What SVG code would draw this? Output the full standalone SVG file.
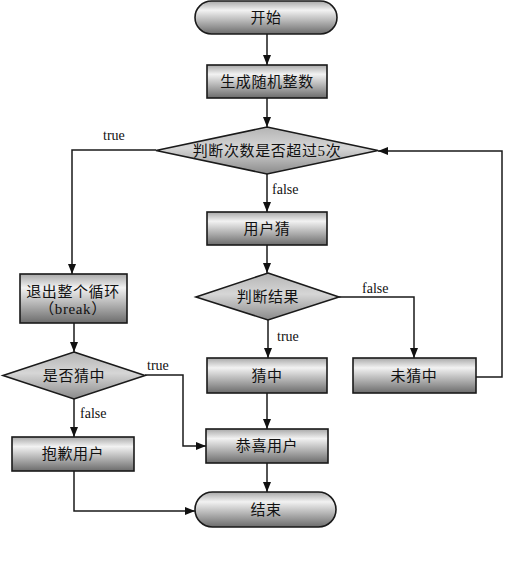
<svg xmlns="http://www.w3.org/2000/svg" width="520" height="562" viewBox="0 0 520 562">
<defs>
<linearGradient id="gbox" x1="0" y1="0" x2="0" y2="1">
<stop offset="0" stop-color="#a8a8a8"/>
<stop offset="0.28" stop-color="#f2f2f2"/>
<stop offset="1" stop-color="#6c6c6c"/>
</linearGradient>
<linearGradient id="gdia" x1="0" y1="0" x2="0" y2="1">
<stop offset="0" stop-color="#b4b4b4"/>
<stop offset="0.45" stop-color="#d6d6d6"/>
<stop offset="1" stop-color="#8a8a8a"/>
</linearGradient>
<marker id="arr" markerWidth="10" markerHeight="8" refX="10" refY="4" orient="auto" markerUnits="userSpaceOnUse">
<path d="M0,0 L10,4 L0,8 Z" fill="#111"/>
</marker>
</defs>
<style>
.box{fill:url(#gbox);stroke:#1a1a1a;stroke-width:1.6}
.dia{fill:url(#gdia);stroke:#1a1a1a;stroke-width:1.6}
.t{font-family:"Liberation Serif","Noto Sans CJK SC",serif;font-size:15px;fill:#111;text-anchor:middle;dominant-baseline:central;letter-spacing:0.6px}
.lbl{font-family:"Liberation Serif",serif;font-size:14px;fill:#111}
.c{fill:none;stroke:#1a1a1a;stroke-width:1.5;marker-end:url(#arr)}
.cn{fill:none;stroke:#1a1a1a;stroke-width:1.5}
</style>
<rect width="520" height="562" fill="#fff"/>
<g id="connectors">
<path class="c" d="M267,34 L267,65"/>
<path class="c" d="M267,98 L267,127"/>
<path class="c" d="M267,174 L267,212"/>
<path class="c" d="M156,150 L72,150 L72,274"/>
<path class="c" d="M267,245 L267,273"/>
<path class="c" d="M339,297 L414,297 L414,358"/>
<path class="c" d="M268,320 L268,358"/>
<path class="c" d="M476,377 L502,377 L502,151 L378,151"/>
<path class="c" d="M267,393 L267,429"/>
<path class="c" d="M267,463 L267,492"/>
<path class="c" d="M74,323 L74,352"/>
<path class="c" d="M145,375 L183,375 L183,446 L206,446"/>
<path class="c" d="M74,399 L74,437"/>
<path class="c" d="M74,471 L74,511 L195,511"/>
<text class="lbl" x="272" y="194">false</text>
<text class="lbl" x="103" y="140">true</text>
<text class="lbl" x="362" y="293">false</text>
<text class="lbl" x="277" y="341">true</text>
<text class="lbl" x="147" y="370">true</text>
<text class="lbl" x="80" y="418">false</text>
</g>
<g id="start">
<rect class="box" x="195" y="1" width="142" height="33" rx="16.5" ry="16.5"/>
<text class="t" x="266" y="18">开始</text>
</g>
<g id="gen">
<rect class="box" x="207" y="65" width="120" height="33"/>
<text class="t" x="267" y="82">生成随机整数</text>
</g>
<g id="check5">
<polygon class="dia" points="267,127 378,150.5 267,174 156,150.5"/>
<text class="t" x="267" y="151">判断次数是否超过5次</text>
</g>
<g id="guess">
<rect class="box" x="207" y="212" width="120" height="33"/>
<text class="t" x="267" y="229">用户猜</text>
</g>
<g id="judge">
<polygon class="dia" points="268,273 339,297 268,320 196,297"/>
<text class="t" x="268" y="297">判断结果</text>
</g>
<g id="hit">
<rect class="box" x="207" y="358" width="120" height="35"/>
<text class="t" x="267" y="376">猜中</text>
</g>
<g id="miss">
<rect class="box" x="353" y="358" width="123" height="35"/>
<text class="t" x="414" y="376">未猜中</text>
</g>
<g id="break">
<rect class="box" x="20" y="274" width="107" height="49"/>
<text class="t" x="73" y="292">退出整个循环</text>
<text class="t" x="73" y="309">（break）</text>
</g>
<g id="ishit">
<polygon class="dia" points="74,352 145,375.5 74,399 3,375.5"/>
<text class="t" x="74" y="376">是否猜中</text>
</g>
<g id="sorry">
<rect class="box" x="12" y="437" width="122" height="34"/>
<text class="t" x="73" y="454">抱歉用户</text>
</g>
<g id="congrats">
<rect class="box" x="206" y="429" width="122" height="34"/>
<text class="t" x="267" y="446">恭喜用户</text>
</g>
<g id="end">
<rect class="box" x="195" y="492" width="141" height="35" rx="17.5" ry="17.5"/>
<text class="t" x="266" y="510">结束</text>
</g>
</svg>
